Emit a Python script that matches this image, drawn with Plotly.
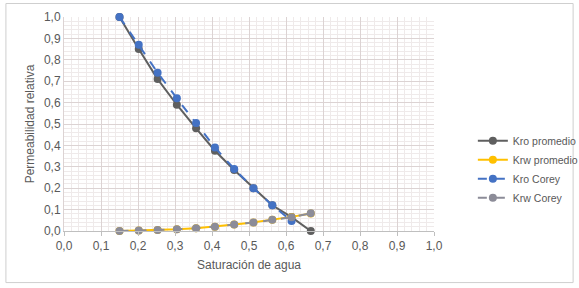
import plotly.graph_objects as go

sw = [0.150, 0.202, 0.253, 0.305, 0.357, 0.408, 0.460, 0.512, 0.563, 0.615, 0.667]
kro_prom = [1.00, 0.85, 0.71, 0.59, 0.48, 0.375, 0.285, 0.20, 0.12, 0.065, 0.0]
krw_prom = [0.0, 0.002, 0.005, 0.008, 0.013, 0.02, 0.03, 0.04, 0.052, 0.066, 0.082]
kro_corey = [1.00, 0.87, 0.74, 0.62, 0.505, 0.39, 0.29, 0.20, 0.12, 0.047, None]
krw_corey = [0.0, 0.002, 0.005, 0.008, 0.013, 0.02, 0.03, 0.04, 0.052, 0.064, 0.083]

x_ticks = [0.0, 0.1, 0.2, 0.3, 0.4, 0.5, 0.6, 0.7, 0.8, 0.9, 1.0]
x_labels = ["0,0", "0,1", "0,2", "0,3", "0,4", "0,5", "0,6", "0,7", "0,8", "0,9", "1,0"]
y_ticks = x_ticks
y_labels = x_labels

FONT = "Liberation Sans, Arial"

fig = go.Figure()
fig.add_trace(go.Scatter(x=sw, y=kro_prom, name="Kro promedio", mode="lines+markers",
                         line=dict(color="#5f5f5f", width=2), marker=dict(size=8, color="#5f5f5f"),
                         cliponaxis=False))
fig.add_trace(go.Scatter(x=sw, y=krw_prom, name="Krw promedio", mode="lines+markers",
                         line=dict(color="#FFC000", width=2), marker=dict(size=8, color="#FFC000"),
                         cliponaxis=False))
fig.add_trace(go.Scatter(x=sw, y=kro_corey, name="Kro Corey", mode="lines+markers",
                         line=dict(color="#4472C4", width=2, dash="dash"), marker=dict(size=8, color="#4472C4"),
                         cliponaxis=False))
fig.add_trace(go.Scatter(x=sw, y=krw_corey, name="Krw Corey", mode="lines+markers",
                         line=dict(color="#8C8C98", width=2, dash="dash"), marker=dict(size=8, color="#8C8C98"),
                         cliponaxis=False))

axis_common = dict(
    range=[0, 1], showgrid=True, gridcolor="#DCD3D3", gridwidth=1,
    minor=dict(dtick=0.02, showgrid=True, gridcolor="#EFEAEA", gridwidth=1),
    zeroline=False, tickfont=dict(family=FONT, size=12, color="#595959"),
    fixedrange=True, automargin=False,
)
fig.update_xaxes(**axis_common, tickvals=x_ticks, ticktext=x_labels,
                 showline=True, linecolor="#BFBFBF", ticks="outside", ticklen=4, tickcolor="#BFBFBF",
                 title=dict(text="Saturación de agua", font=dict(family=FONT, size=12, color="#595959"),
                            standoff=8))
fig.update_yaxes(**axis_common, tickvals=y_ticks, ticktext=y_labels,
                 showline=True, linecolor="#DCD3D3", ticks="",
                 title=dict(text="Permeabilidad relativa", font=dict(family=FONT, size=12, color="#595959"),
                            standoff=6))

fig.add_shape(type="rect", xref="paper", yref="paper", x0=-0.157, x1=1.376, y0=-0.241, y1=1.063,
              line=dict(color="#CFCFCF", width=1), fillcolor="rgba(0,0,0,0)", layer="above")

fig.update_layout(
    width=579, height=288,
    margin=dict(l=64, r=145, t=17, b=57, autoexpand=False),
    paper_bgcolor="white", plot_bgcolor="white",
    showlegend=True,
    legend=dict(x=1.105, y=0.49, xanchor="left", yanchor="top",
                font=dict(family=FONT, size=10.5, color="#595959"),
                bgcolor="rgba(0,0,0,0)", tracegroupgap=0, itemwidth=30),
)

fig.write_html("out.html", config={"displayModeBar": False},
               post_script="document.body.style.margin='0px';")
